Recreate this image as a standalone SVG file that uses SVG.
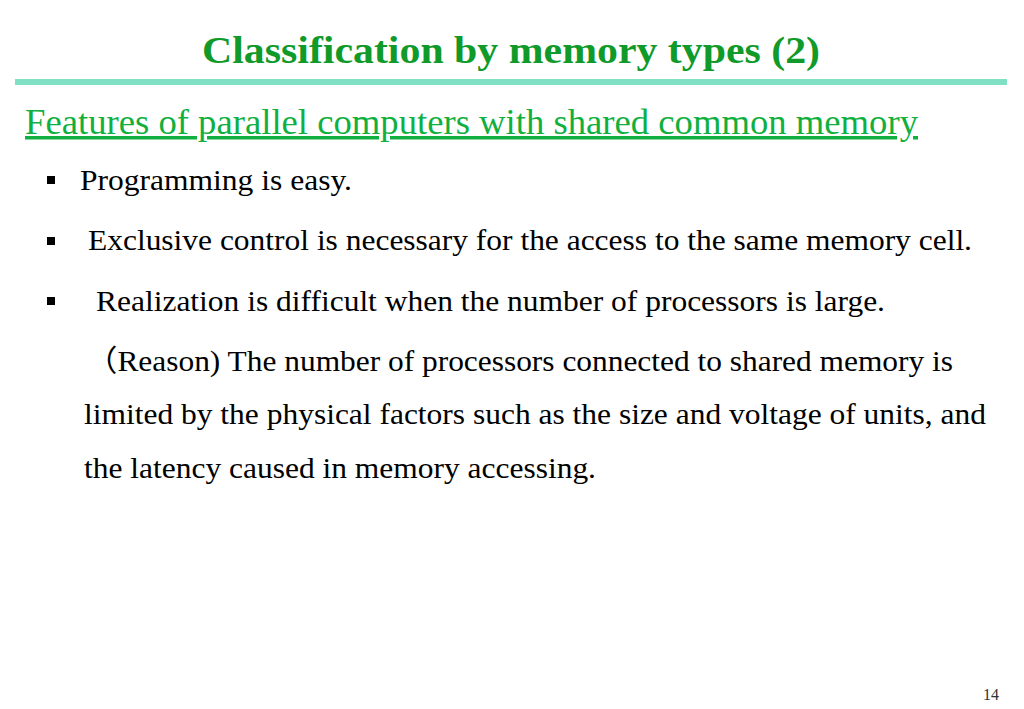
<svg xmlns="http://www.w3.org/2000/svg" width="1024" height="709" viewBox="0 0 1024 709">
<style>
.t{font-family:"Liberation Serif","DejaVu Serif","Noto Sans CJK JP",serif;fill:#000;font-size:30px}
.b{fill:#000}
</style>
<rect width="1024" height="709" fill="#fff"/>
<text x="511" y="63" text-anchor="middle" font-family="Liberation Serif,serif" font-weight="bold" font-size="38" fill="#109a2a" textLength="618" lengthAdjust="spacingAndGlyphs">Classification by memory types (2)</text>
<rect x="15" y="79" width="992" height="6" fill="#80e0c4"/>
<text x="25" y="134" font-family="Liberation Serif,serif" font-size="35" fill="#10b040" text-decoration="underline" textLength="893" lengthAdjust="spacingAndGlyphs">Features of parallel computers with shared common memory</text>
<rect class="b" x="47" y="176" width="8" height="8"/>
<text class="t" x="80" y="190" textLength="272" lengthAdjust="spacingAndGlyphs">Programming is easy.</text>
<rect class="b" x="47" y="237" width="8" height="8"/>
<text class="t" x="88" y="250" textLength="884" lengthAdjust="spacingAndGlyphs">Exclusive control is necessary for the access to the same memory cell.</text>
<rect class="b" x="47" y="297" width="8" height="8"/>
<text class="t" x="96" y="311" textLength="789" lengthAdjust="spacingAndGlyphs">Realization is difficult when the number of processors is large.</text>
<text class="t" x="86" y="371" textLength="867" lengthAdjust="spacingAndGlyphs">（Reason) The number of processors connected to shared memory is</text>
<text class="t" x="84" y="424" textLength="902" lengthAdjust="spacingAndGlyphs">limited by the physical factors such as the size and voltage of units, and</text>
<text class="t" x="84" y="478" textLength="512" lengthAdjust="spacingAndGlyphs">the latency caused in memory accessing.</text>
<text x="983" y="700" font-family="Liberation Serif,serif" font-size="16" fill="#333">14</text>
</svg>
